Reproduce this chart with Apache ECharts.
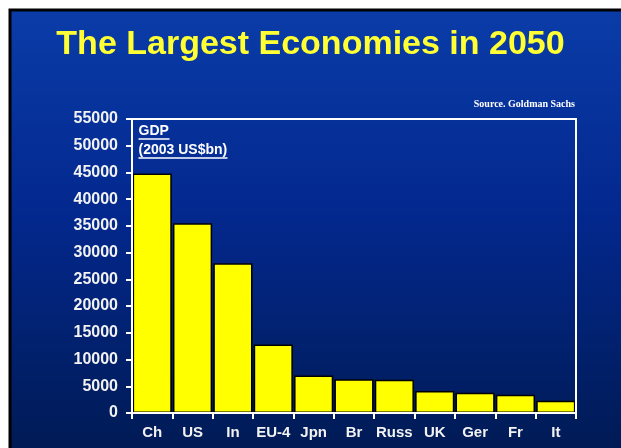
<!DOCTYPE html>
<html>
<head>
<meta charset="utf-8">
<script src="https://cdn.jsdelivr.net/npm/echarts@6/dist/echarts.min.js"></script>
<style>
  html, body { margin: 0; padding: 0; background: #ffffff; }
  #chart { width: 621px; height: 448px; }
</style>
</head>
<body>
<div id="chart"></div>
<script>
// Projected GDP in 2050 (2003 US$bn)
const countries = ['Ch', 'US', 'In', 'EU-4', 'Jpn', 'Br', 'Russ', 'UK', 'Ger', 'Fr', 'It'];
const gdp2050 = [44800, 35500, 28000, 12800, 7000, 6300, 6200, 4100, 3800, 3400, 2300];
const yTicks = [0, 5000, 10000, 15000, 20000, 25000, 30000, 35000, 40000, 45000, 50000, 55000];

const FONT = '"Liberation Sans", Arial, sans-serif';
const chart = echarts.init(document.getElementById('chart'));

const grid = { left: 132, right: 45, top: 119, bottom: 35 };

const frameLine = { show: true, onZero: false, lineStyle: { color: '#ffffff', width: 2 } };

chart.setOption({
  animation: false,
  grid: Object.assign({ containLabel: false }, grid),
  graphic: [
    {
      type: 'rect', z: -10, silent: true,
      shape: { x: 10, y: 10, width: 620, height: 450 },
      style: {
        stroke: '#000000', lineWidth: 3,
        fill: {
          type: 'linear', x: 0, y: 0, x2: 0, y2: 1,
          colorStops: [
            { offset: 0, color: '#0a3ca8' },
            { offset: 0.45, color: '#03288e' },
            { offset: 1, color: '#001a52' }
          ]
        }
      }
    },
    {
      type: 'text', left: 'center', top: 28, z: 10,
      style: {
        text: 'The Largest Economies in 2050',
        font: 'bold 34px ' + FONT,
        fill: '#ffff33',
        shadowColor: 'rgba(0,0,0,0.95)',
        shadowOffsetX: 2.5, shadowOffsetY: 2.5, shadowBlur: 1.5
      }
    },
    {
      type: 'text', right: 46, top: 99, z: 10,
      style: {
        text: 'Source. Goldman Sachs',
        font: 'bold 10px "Liberation Serif", "Times New Roman", serif',
        fill: '#ffffff'
      }
    },
    {
      type: 'group', left: 136, top: 124, z: 10,
      children: [
        { type: 'text', x: 0, y: 0, style: { text: 'GDP', font: 'bold 14px ' + FONT, fill: '#ffffff' } },
        { type: 'line', shape: { x1: 0, y1: 15, x2: 31, y2: 15 }, style: { stroke: '#ffffff', lineWidth: 1.5 } },
        { type: 'text', x: 0, y: 19, style: { text: '(2003 US$bn)', font: 'bold 14px ' + FONT, fill: '#ffffff' } },
        { type: 'line', shape: { x1: 0, y1: 34, x2: 89, y2: 34 }, style: { stroke: '#ffffff', lineWidth: 1.5 } }
      ]
    }
  ],
  xAxis: [
    {
      type: 'category', data: countries, position: 'bottom', z: 5,
      boundaryGap: true,
      axisLine: frameLine,
      axisTick: { show: true, alignWithLabel: false, length: 6, inside: false, lineStyle: { color: '#ffffff', width: 2 } },
      axisLabel: { color: '#f2f2f2', fontFamily: FONT, fontWeight: 'bold', fontSize: 15, margin: 12, interval: 0 }
    },
    {
      type: 'category', data: countries, position: 'top', z: 5,
      axisLine: frameLine, axisTick: { show: false }, axisLabel: { show: false }
    }
  ],
  yAxis: [
    {
      type: 'value', min: 0, max: 55000, interval: 5000, position: 'left', z: 5,
      axisLine: frameLine,
      axisTick: { show: true, length: 6, lineStyle: { color: '#ffffff', width: 2 } },
      axisLabel: {
        color: '#f2f2f2', fontFamily: FONT, fontWeight: 'bold', fontSize: 16, margin: 14,
        formatter: v => yTicks.includes(v) ? String(v) : ''
      },
      splitLine: { show: false }
    },
    {
      type: 'value', min: 0, max: 55000, interval: 5000, position: 'right', z: 5,
      axisLine: frameLine, axisTick: { show: false }, axisLabel: { show: false }, splitLine: { show: false }
    }
  ],
  series: [
    {
      type: 'bar', data: gdp2050, barCategoryGap: '3%', z: 2,
      itemStyle: { color: '#ffff00', borderColor: '#000000', borderWidth: 1.5 }
    }
  ]
});
</script>
</body>
</html>
